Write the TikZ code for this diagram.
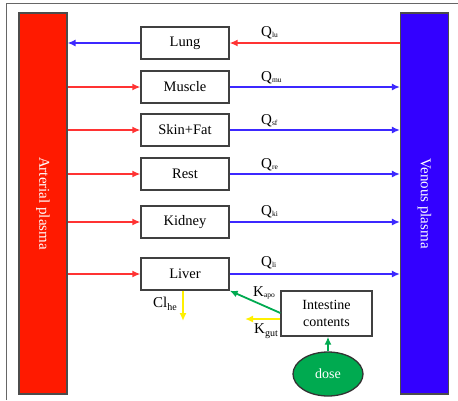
\documentclass[tikz,border=0pt]{standalone}
\usepackage{fontspec}
\setmainfont{Liberation Serif}
\usetikzlibrary{arrows.meta,shapes.geometric}
\definecolor{artred}{RGB}{255,26,0}
\definecolor{venblue}{RGB}{51,0,255}
\definecolor{lred}{RGB}{255,51,51}
\definecolor{lblue}{RGB}{60,40,255}
\definecolor{dgreen}{RGB}{0,170,80}
\definecolor{ygl}{RGB}{255,240,0}
\tikzset{
  organ/.style={draw=black!75,line width=1.3pt,minimum width=88pt,minimum height=32pt,inner sep=0pt,font=\fontsize{14.5}{16}\selectfont,fill=white},
  plasma/.style={draw=black!70,line width=1.2pt,minimum width=48pt,minimum height=381pt,inner sep=0pt},
  flowred/.style={lred,line width=1.4pt,-{Latex[length=8pt,width=7pt]}},
  flowblue/.style={lblue,line width=1.4pt,-{Latex[length=8pt,width=7pt]}},
  flowgreen/.style={dgreen,line width=1.8pt,-{Latex[length=8pt,width=7pt]}},
  flowyellow/.style={ygl,line width=1.8pt,-{Latex[length=8pt,width=7pt]}},
  qlab/.style={font=\fontsize{15}{16}\selectfont,inner sep=0pt,anchor=south west},
  vlab/.style={text=white,rotate=-90,font=\fontsize{15}{17}\selectfont}
}
\newcommand{\sbs}[1]{\raisebox{-0.2ex}{\fontsize{7.5}{8}\selectfont #1}}
\begin{document}
\begin{tikzpicture}[x=1pt,y=-1pt]
\useasboundingbox (0,0) rectangle (458,400);
\draw[black!60,line width=0.8pt] (6,400) -- (6,3) -- (458,3);
\node[plasma,fill=artred] (art) at (43,203.5) {};
\node[plasma,fill=venblue] (ven) at (424.5,203.5) {};
\node[vlab] at (art) {Arterial plasma};
\node[vlab] at (ven) {Venous plasma};

\node[organ] (lung) at (185,43) {Lung};
\node[organ] (mus) at (185,87) {Muscle};
\node[organ] (skin) at (185,130) {Skin+Fat};
\node[organ] (rest) at (185,174) {Rest};
\node[organ] (kid) at (185,222) {Kidney};
\node[organ] (liv) at (185,274) {Liver};

\node[draw=black!75,line width=1.3pt,minimum width=91pt,minimum height=45pt,inner sep=0pt,align=center,font=\fontsize{14}{17}\selectfont] (int) at (326.5,313.5) {Intestine\\contents};
\node[ellipse,draw=black!80,line width=1.3pt,fill=dgreen,minimum width=70pt,minimum height=44pt,inner sep=0pt,text=white,font=\fontsize{14}{15}\selectfont] (dose) at (328,374) {dose};

% lung
\draw[flowred] (ven.west |- lung) -- (lung.east);
\draw[flowblue] (lung.west) -- (art.east |- lung);
% others
\foreach \o in {mus,skin,rest,kid,liv}{
  \draw[flowred] (art.east |- \o) -- (\o.west);
  \draw[flowblue] (\o.east) -- (ven.west |- \o);
}
\node[qlab] at (261,39) {Q\sbs{lu}};
\node[qlab] at (261,84) {Q\sbs{mu}};
\node[qlab] at (261,127) {Q\sbs{sf}};
\node[qlab] at (261,171) {Q\sbs{re}};
\node[qlab] at (261,218) {Q\sbs{ki}};
\node[qlab] at (261,269) {Q\sbs{li}};

\draw[flowgreen] (int.west |- 0,313) -- (liv.south east);
\node[font=\fontsize{15}{16}\selectfont,inner sep=0pt] at (264,293) {K\sbs{apo}};
\coordinate (kg) at (245,319);
\draw[flowyellow] (int.west |- kg) -- (kg);
\node[font=\fontsize{15}{16}\selectfont,inner sep=0pt] at (266,331) {K\raisebox{-0.5ex}{\fontsize{10}{10}\selectfont gut}};
\coordinate (cl) at (183,321);
\draw[flowyellow] (liv.south -| cl) -- (cl);
\node[font=\fontsize{15}{16}\selectfont,inner sep=0pt] at (165,304) {Cl\raisebox{-0.5ex}{\fontsize{10}{10}\selectfont he}};
\draw[flowgreen] (dose.north) -- (int.south -| dose);
\end{tikzpicture}
\end{document}
